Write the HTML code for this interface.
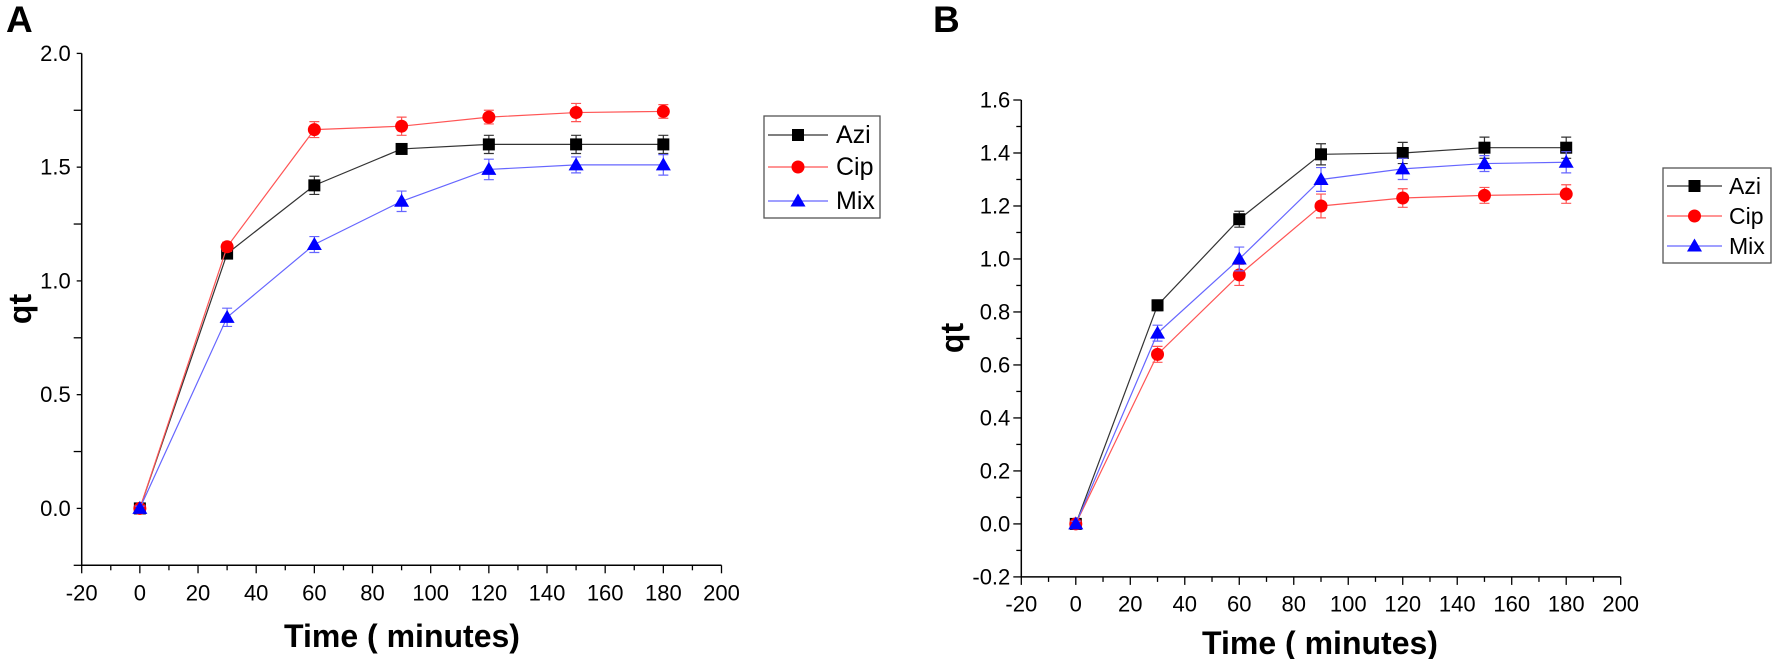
<!DOCTYPE html>
<html><head><meta charset="utf-8"><style>
html,body{margin:0;padding:0;background:#fff;}
svg{display:block;font-family:"Liberation Sans",Arial,sans-serif;}
</style></head><body>
<svg id="chart" width="1772" height="659" viewBox="0 0 1772 659"></svg>
<script>
// Panel A data
const timesA = [0, 30, 60, 90, 120, 150, 180];
const aziA = [0, 1.12, 1.42, 1.58, 1.60, 1.60, 1.60];
const aziErrA = [0.01, 0.02, 0.04, 0.02, 0.04, 0.04, 0.04];
const cipA = [0, 1.15, 1.665, 1.68, 1.72, 1.74, 1.745];
const cipErrA = [0.01, 0.02, 0.035, 0.04, 0.03, 0.04, 0.03];
const mixA = [0, 0.84, 1.16, 1.35, 1.49, 1.51, 1.51];
const mixErrA = [0.01, 0.04, 0.035, 0.045, 0.045, 0.035, 0.045];
const yTicksA = ["0.0", "0.5", "1.0", "1.5", "2.0"];
const xTicks = ["-20", "0", "20", "40", "60", "80", "100", "120", "140", "160", "180", "200"];
// Panel B data
const timesB = [0, 30, 60, 90, 120, 150, 180];
const aziB = [0, 0.825, 1.15, 1.395, 1.40, 1.42, 1.42];
const aziErrB = [0.01, 0.02, 0.03, 0.04, 0.04, 0.04, 0.04];
const cipB = [0, 0.64, 0.94, 1.20, 1.23, 1.24, 1.245];
const cipErrB = [0.01, 0.03, 0.04, 0.045, 0.035, 0.03, 0.035];
const mixB = [0, 0.72, 1.0, 1.30, 1.34, 1.36, 1.365];
const mixErrB = [0.01, 0.03, 0.045, 0.045, 0.04, 0.03, 0.04];
const yTicksB = ["-0.2", "0.0", "0.2", "0.4", "0.6", "0.8", "1.0", "1.2", "1.4", "1.6"];

const NS = "http://www.w3.org/2000/svg";
const svg = document.getElementById("chart");
function el(tag, attrs, parent) {
  const e = document.createElementNS(NS, tag);
  for (const k in attrs) e.setAttribute(k, attrs[k]);
  (parent || svg).appendChild(e);
  return e;
}

function drawPanel(cfg) {
  const g = el("g", {});
  
  
  const xs = v => cfg.x0 + (v - (-20)) / 220 * (cfg.x1 - cfg.x0);
  const ys = v => cfg.y0 - (v - cfg.ymin) / (cfg.ymax - cfg.ymin) * (cfg.y0 - cfg.y1);
  const ax = el("path", {d: `M${cfg.x0},${cfg.y1} V${cfg.y0} H${cfg.x1}`, stroke: "#000", "stroke-width": 1.5, fill: "none"}, g);
  
  
  for (let v = -20; v <= 200; v += 10) {
    const major = v % 20 === 0;
    el("line", {x1: xs(v), x2: xs(v), y1: cfg.y0, y2: cfg.y0 + (major ? 8 : 5), stroke: "#000", "stroke-width": 1.3}, g);
  }
  xTicks.forEach(t => {
    const tx = el("text", {x: xs(+t), y: cfg.xlabY, "font-size": cfg.fs, "text-anchor": "middle", "dominant-baseline": "central"}, g);
    tx.textContent = t;
    
    
  });
  const steps = Math.round((cfg.ymax - cfg.ymin) / cfg.minor);
  for (let i = 0; i <= steps; i++) {
    const v = cfg.ymin + i * cfg.minor;
    const major = i % 2 === 0;
    el("line", {x1: cfg.x0, x2: cfg.x0 - (major ? 8 : 5), y1: ys(v), y2: ys(v), stroke: "#000", "stroke-width": 1.3}, g);
  }
  cfg.yTicks.forEach(t => {
    const tx = el("text", {x: cfg.x0 - 11, y: ys(+t), "font-size": cfg.fs, "text-anchor": "end", "dominant-baseline": "central"}, g);
    tx.textContent = t;
    
    
  });
  const xt = el("text", {x: cfg.xtX, y: cfg.xtY, "font-size": 32, "font-weight": "bold", "text-anchor": "middle", "dominant-baseline": "central"}, g);
  xt.textContent = "Time ( minutes)";
  
  
  const yt = el("text", {x: 0, y: 0, "font-size": 32, "font-weight": "bold", "text-anchor": "middle", "dominant-baseline": "central", transform: `translate(${cfg.ytX},${cfg.ytY}) rotate(-90)`}, g);
  yt.textContent = "qt";
  
  
  const pl = el("text", {x: cfg.plX, y: 32, "font-size": 37, "font-weight": "bold"}, g);
  pl.textContent = cfg.label;
  
  
  cfg.series.forEach(s => {
    const sg = el("g", {}, g);
    
    
    const pts = cfg.times.map((t, i) => xs(t) + "," + ys(s.vals[i])).join(" ");
    const ln = el("polyline", {points: pts, fill: "none", stroke: s.line, "stroke-width": 1.2}, sg);
    
    
    cfg.times.forEach((t, i) => {
      const x = xs(t), y = ys(s.vals[i]), e = s.err[i];
      const eb = el("path", {d: `M${x},${ys(s.vals[i]-e)} V${ys(s.vals[i]+e)} M${x-5},${ys(s.vals[i]+e)} h10 M${x-5},${ys(s.vals[i]-e)} h10`, stroke: s.line, "stroke-width": 1.2, fill: "none"}, sg);
      
      
      marker(sg, s.shape, x, y, s.color);
    });
  });
  const lg = el("g", {}, g);
  
  
  const L = cfg.legend;
  el("rect", {x: L.x, y: L.y, width: L.w, height: L.h, fill: "#fff", stroke: "#555", "stroke-width": 1.3}, lg);
  cfg.series.forEach((s, i) => {
    const eg = el("g", {}, lg);
    
    
    const ry = L.rows[i];
    el("line", {x1: L.lx1, x2: L.lx2, y1: ry, y2: ry, stroke: s.line, "stroke-width": 1.2}, eg);
    marker(eg, s.shape, (L.lx1 + L.lx2) / 2, ry, s.color);
    const t = el("text", {x: L.tx, y: ry, "font-size": L.fs, "dominant-baseline": "central"}, eg);
    t.textContent = s.name;
  });
}
function marker(p, shape, x, y, c) {
  let m;
  if (shape === "sq") m = el("rect", {x: x - 6, y: y - 6, width: 12, height: 12, fill: c}, p);
  else if (shape === "ci") m = el("circle", {cx: x, cy: y, r: 6.5, fill: c}, p);
  else m = el("path", {d: `M${x},${y-7.5} L${x+7.5},${y+5.5} L${x-7.5},${y+5.5} Z`, fill: c}, p);
  
  
}

drawPanel({name: "panel-a", label: "A", plX: 6, times: timesA,
  x0: 81.7, x1: 721.5, y0: 565.3, y1: 53.4, ymin: -0.25, ymax: 2.0, minor: 0.25,
  yTicks: yTicksA, fs: 22, xlabY: 593, xtX: 402, xtY: 636, ytX: 20, ytY: 309,
  series: [
    {key: "azi", name: "Azi", vals: aziA, err: aziErrA, shape: "sq", color: "#000", line: "#333"},
    {key: "cip", name: "Cip", vals: cipA, err: cipErrA, shape: "ci", color: "#f00", line: "#f55"},
    {key: "mix", name: "Mix", vals: mixA, err: mixErrA, shape: "tr", color: "#00f", line: "#66f"}],
  legend: {x: 764, y: 116, w: 116, h: 102, rows: [135, 167, 201], lx1: 768, lx2: 828, tx: 836, fs: 25}});

drawPanel({name: "panel-b", label: "B", plX: 933, times: timesB,
  x0: 1021.3, x1: 1620.7, y0: 576.9, y1: 100, ymin: -0.2, ymax: 1.6, minor: 0.1,
  yTicks: yTicksB, fs: 22, xlabY: 604, xtX: 1320, xtY: 643, ytX: 952, ytY: 338,
  series: [
    {key: "azi", name: "Azi", vals: aziB, err: aziErrB, shape: "sq", color: "#000", line: "#333"},
    {key: "cip", name: "Cip", vals: cipB, err: cipErrB, shape: "ci", color: "#f00", line: "#f55"},
    {key: "mix", name: "Mix", vals: mixB, err: mixErrB, shape: "tr", color: "#00f", line: "#66f"}],
  legend: {x: 1663, y: 168, w: 108, h: 95, rows: [186, 216, 246], lx1: 1667, lx2: 1722, tx: 1729, fs: 23}});
</script>
</body></html>
